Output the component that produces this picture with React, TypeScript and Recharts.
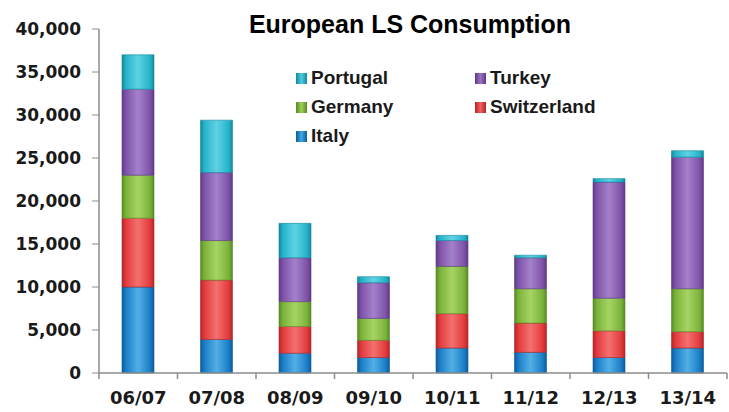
import { BarChart, Bar, XAxis, YAxis, Legend } from 'recharts';

const seasons = ['06/07', '07/08', '08/09', '09/10', '10/11', '11/12', '12/13', '13/14'];

const italy = [10000, 3900, 2300, 1800, 2900, 2400, 1800, 2900];
const switzerland = [8000, 6900, 3100, 2000, 4000, 3400, 3100, 1900];
const germany = [5000, 4600, 2900, 2550, 5500, 4000, 3800, 5000];
const turkey = [10000, 7900, 5100, 4150, 3000, 3600, 13500, 15300];
const portugal = [4000, 6100, 4000, 700, 600, 300, 400, 750];

const yTicks = [0, 5000, 10000, 15000, 20000, 25000, 30000, 35000, 40000];
const legendOrder = ['Portugal', 'Turkey', 'Germany', 'Switzerland', 'Italy'];

const series = [
  { key: 'Italy', color: '#1a7dc6', light: '#3fa6e2', dark: '#0d5c99' },
  { key: 'Switzerland', color: '#e23a3c', light: '#f2605f', dark: '#b3252a' },
  { key: 'Germany', color: '#7ab23a', light: '#9bcf52', dark: '#5a8a26' },
  { key: 'Turkey', color: '#7d52a8', light: '#9a72c4', dark: '#5e3a86' },
  { key: 'Portugal', color: '#24b3c9', light: '#4ccde0', dark: '#15879c' },
];

const data = seasons.map((s, i) => ({
  season: s,
  Italy: italy[i],
  Switzerland: switzerland[i],
  Germany: germany[i],
  Turkey: turkey[i],
  Portugal: portugal[i],
}));

const fmt = (v: number) => v.toLocaleString('en-US');

// category label plus the small divider ticks between seasons
function SeasonTick(props: any) {
  const { x, y, payload, index } = props;
  const half = payload?.offset || 39.25;
  const axisY = y - 18;
  return (
    <g>
      <line x1={x - half} x2={x - half} y1={axisY} y2={axisY + 6} stroke="#8c8c8c" strokeWidth={1.5} />
      {index === seasons.length - 1 && (
        <line x1={x + half} x2={x + half} y1={axisY} y2={axisY + 6} stroke="#8c8c8c" strokeWidth={1.5} />
      )}
      <text
        x={x}
        y={y}
        dy="0.71em"
        textAnchor="middle"
        fill="#1a1a1a"
        fontSize={18}
        fontWeight="bold"
        fontFamily="DejaVu Sans, sans-serif"
      >
        {payload.value}
      </text>
    </g>
  );
}

function LegendBox() {
  return (
    <div
      style={{
        display: 'grid',
        gridTemplateColumns: '179px 150px',
        rowGap: 7,
        fontFamily: 'Liberation Sans, Arial, sans-serif',
        fontWeight: 'bold',
        fontSize: 19,
        color: '#1a1a1a',
        lineHeight: '22px',
        textAlign: 'left',
      }}
    >
      {legendOrder.map((name) => {
        const s = series.find((x) => x.key === name)!;
        return (
          <div key={name} style={{ display: 'flex', alignItems: 'center' }}>
            <span
              style={{
                width: 11,
                height: 11,
                background: `linear-gradient(90deg, ${s.dark}, ${s.light} 50%, ${s.dark})`,
                marginRight: 4,
                display: 'inline-block',
              }}
            />
            {name}
          </div>
        );
      })}
    </div>
  );
}

export default function App() {
  return (
    <div style={{ position: 'absolute', left: 0, top: 0, width: 729, height: 412, background: '#fff' }}>
      <div
        style={{
          position: 'absolute',
          left: 0,
          width: 820,
          top: 12,
          textAlign: 'center',
          fontFamily: 'Liberation Sans, Arial, sans-serif',
          fontWeight: 'bold',
          fontSize: 25,
          lineHeight: '25px',
          color: '#000',
          zIndex: 2,
        }}
      >
        European LS Consumption
      </div>
      <BarChart
        width={729}
        height={412}
        data={data}
        margin={{ top: 29, right: 2, bottom: 0, left: 0 }}
        barSize={32}
      >
        <defs>
          {series.map((s) => (
            <linearGradient key={s.key} id={`g-${s.key}`} x1="0" y1="0" x2="1" y2="0">
              <stop offset="0%" stopColor={s.dark} />
              <stop offset="12%" stopColor={s.color} />
              <stop offset="50%" stopColor={s.light} stopOpacity={0.9} />
              <stop offset="88%" stopColor={s.color} />
              <stop offset="100%" stopColor={s.dark} />
            </linearGradient>
          ))}
        </defs>
        <XAxis
          dataKey="season"
          height={39}
          tickLine={false}
          tickSize={6}
          axisLine={{ stroke: '#8c8c8c', strokeWidth: 1.5 }}
          tickMargin={12}
          tick={<SeasonTick />}
          interval={0}
        />
        <YAxis
          width={99}
          domain={[0, 40000]}
          ticks={yTicks}
          tickFormatter={fmt}
          axisLine={{ stroke: '#8c8c8c', strokeWidth: 1.5 }}
          tickLine={{ stroke: '#8c8c8c' }}
          tickSize={7}
          tickMargin={11}
          tick={{ fill: '#1a1a1a', fontSize: 17, fontWeight: 'bold', fontFamily: 'DejaVu Sans, sans-serif' }}
        />
        <Legend
          layout="vertical"
          verticalAlign="middle"
          align="center"
          content={<LegendBox />}
          wrapperStyle={{ position: 'absolute', left: 296, top: 67, width: 340 }}
        />
        {series.map((s) => (
          <Bar
            key={s.key}
            dataKey={s.key}
            stackId="a"
            fill={`url(#g-${s.key})`}
            stroke={s.dark}
            strokeWidth={0.6}
            isAnimationActive={false}
          />
        ))}
      </BarChart>
    </div>
  );
}
